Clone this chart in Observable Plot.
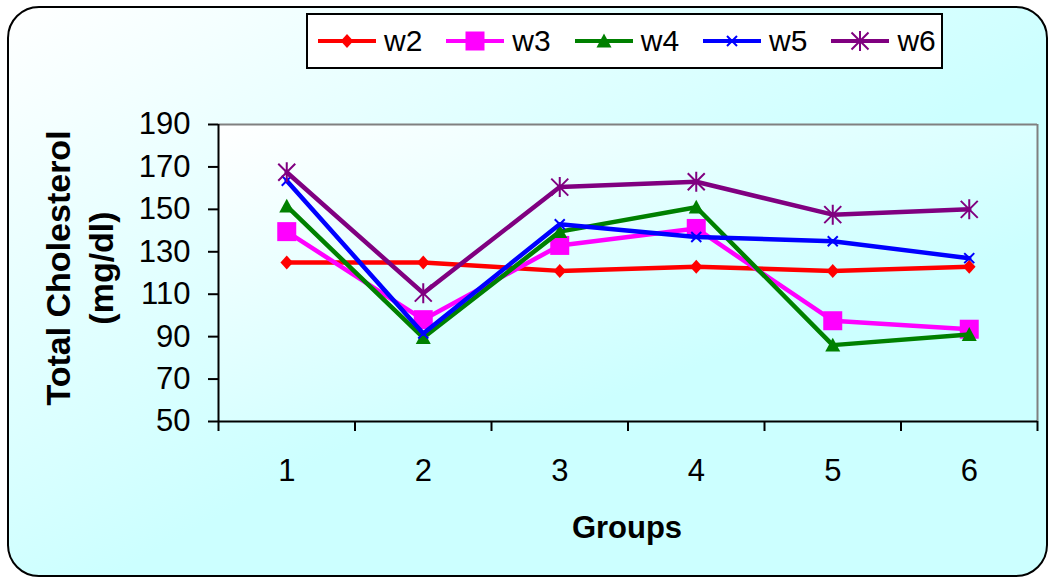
<!DOCTYPE html>
<html>
<head>
<meta charset="utf-8">
<script src="https://cdn.jsdelivr.net/npm/d3@7"></script>
<script src="https://cdn.jsdelivr.net/npm/@observablehq/plot@0.6"></script>
<style>
html, body { margin: 0; padding: 0; background: #fff; }
#wrap { position: relative; width: 1049px; height: 578px; overflow: hidden; font-family: Arial, "Liberation Sans", sans-serif; color: #000; }
#bg { position: absolute; left: 7px; top: 6px; width: 1041px; height: 571px; box-sizing: border-box; border: 2px solid #000; border-radius: 32px;
      background: linear-gradient(to bottom right, #ffffff 0%, #ccffff 55%, #ccffff 100%); }
#chart { position: absolute; left: 0; top: 0; }
#legend { position: absolute; left: 306px; top: 13px; width: 637px; height: 56px; box-sizing: border-box; border: 2px solid #000; background: #fff;
          display: flex; align-items: center; padding-left: 10px; }
.item { display: flex; align-items: center; margin-right: 24px; }
.item svg { display: block; }
.item span { font-size: 30px; margin-left: 8px; line-height: 1; }
#ytitle { position: absolute; left: 80px; top: 268px; transform: translate(-50%, -50%) rotate(-90deg); font-weight: bold; font-size: 34px;
          line-height: 43px; text-align: center; white-space: nowrap; }
#xtitle { position: absolute; left: 627px; top: 510px; transform: translateX(-50%); font-weight: bold; font-size: 31px; white-space: nowrap; }
</style>
</head>
<body>
<div id="wrap">
  <div id="bg"></div>
  <div id="chart"></div>
  <div id="legend"></div>
  <div id="ytitle">Total Cholesterol<br>(mg/dl)</div>
  <div id="xtitle">Groups</div>
</div>
<script>
// ---- data ----
const groups = [1, 2, 3, 4, 5, 6];
const seriesNames = ["w2", "w3", "w4", "w5", "w6"];
const w2 = [125, 125, 121, 123, 121, 123];
const w3 = [139.5, 98, 133, 141, 97.5, 93.5];
const w4 = [151.5, 89.5, 139.5, 151, 86, 91];
const w5 = [163.5, 91.5, 143, 137, 135, 127];
const w6 = [167.5, 110.5, 160.5, 163, 147.5, 150];
const yTicks = [50, 70, 90, 110, 130, 150, 170, 190];
const xBoundaries = [0.5, 1.5, 2.5, 3.5, 4.5, 5.5, 6.5];

// ---- styles ----
const R = s => Math.sqrt(s / Math.PI);
const diamondSym = {draw(c, s) { const r = R(s); c.moveTo(0, -r); c.lineTo(r * 0.9, 0); c.lineTo(0, r); c.lineTo(-r * 0.9, 0); c.closePath(); }};
const squareSym = {draw(c, s) { const r = R(s); c.moveTo(-r, -r); c.lineTo(r, -r); c.lineTo(r, r); c.lineTo(-r, r); c.closePath(); }};
const triangleSym = {draw(c, s) { const r = R(s); c.moveTo(0, -r); c.lineTo(r, r * 0.85); c.lineTo(-r, r * 0.85); c.closePath(); }};
const timesSym = {draw(c, s) { const r = R(s); c.moveTo(-r, -r); c.lineTo(r, r); c.moveTo(-r, r); c.lineTo(r, -r); }};
const starSym = {draw(c, s) { const r = R(s); c.moveTo(-r * 0.85, -r * 0.85); c.lineTo(r * 0.85, r * 0.85); c.moveTo(-r * 0.85, r * 0.85); c.lineTo(r * 0.85, -r * 0.85); c.moveTo(0, -r); c.lineTo(0, r); }};

const styles = {
  w2: {color: "#ff0000", symbol: diamondSym, r: 7, filled: true},
  w3: {color: "#ff00ff", symbol: squareSym, r: 9.5, filled: true},
  w4: {color: "#008000", symbol: triangleSym, r: 7.5, filled: true},
  w5: {color: "#0000ff", symbol: timesSym, r: 5, filled: false},
  w6: {color: "#800080", symbol: starSym, r: 10, filled: false}
};
const values = {w2, w3, w4, w5, w6};

const rows = seriesNames.flatMap(s => groups.map((g, i) => ({series: s, group: g, value: values[s][i]})));

const marks = [
  Plot.frame({fill: "url(#plotGrad)", stroke: "none"}),
  Plot.ruleY([190], {stroke: "#808080", strokeWidth: 2}),
  Plot.ruleX([6.5], {stroke: "#808080", strokeWidth: 2}),
  Plot.ruleY([50], {stroke: "#000", strokeWidth: 2}),
  Plot.ruleX([0.5], {stroke: "#000", strokeWidth: 2}),
  Plot.axisY({ticks: yTicks, tickSize: 10, tickPadding: 18, tickFormat: d => String(d), label: null, stroke: "#000", strokeWidth: 2}),
  Plot.axisX({ticks: xBoundaries, tickSize: 10, tickFormat: () => "", label: null, stroke: "#000", strokeWidth: 2}),
  Plot.axisX({ticks: groups, tickSize: 0, tickPadding: 37, tickFormat: d => String(d), label: null})
];
for (const s of seriesNames) {
  const st = styles[s];
  const data = rows.filter(d => d.series === s);
  marks.push(Plot.line(data, {x: "group", y: "value", stroke: st.color, strokeWidth: 4.5}));
  marks.push(Plot.dot(data, st.filled
    ? {x: "group", y: "value", symbol: st.symbol, r: st.r, fill: st.color, stroke: "none"}
    : {x: "group", y: "value", symbol: st.symbol, r: st.r, fill: "none", stroke: st.color, strokeWidth: 2}));
}

const svg = Plot.plot({
  width: 1049,
  height: 578,
  marginLeft: 218,
  marginRight: 12,
  marginTop: 124,
  marginBottom: 157,
  style: {background: "transparent", fontSize: "31px", fontFamily: "Arial, 'Liberation Sans', sans-serif", color: "#000", overflow: "visible"},
  x: {type: "linear", domain: [0.5, 6.5], label: null},
  y: {domain: [50, 190], label: null},
  marks
});
const ns = "http://www.w3.org/2000/svg";
const defs = document.createElementNS(ns, "defs");
defs.innerHTML = '<linearGradient id="plotGrad" x1="0" y1="0" x2="1" y2="1"><stop offset="0" stop-color="#ffffff"/><stop offset="0.7" stop-color="#ccffff"/><stop offset="1" stop-color="#ccffff"/></linearGradient>';
svg.insertBefore(defs, svg.firstChild);
document.getElementById("chart").appendChild(svg);

// ---- legend ----
const legend = document.getElementById("legend");
for (const s of seriesNames) {
  const st = styles[s];
  const item = document.createElement("div");
  item.className = "item";
  const path = d3.symbol(st.symbol, Math.PI * st.r * st.r)();
  const markerAttrs = st.filled ? `fill="${st.color}" stroke="none"` : `fill="none" stroke="${st.color}" stroke-width="2"`;
  item.innerHTML = `<svg width="58" height="26"><line x1="0" x2="58" y1="13" y2="13" stroke="${st.color}" stroke-width="4"/><path transform="translate(29,13)" d="${path}" ${markerAttrs}/></svg><span>${s}</span>`;
  legend.appendChild(item);
}
</script>
</body>
</html>
